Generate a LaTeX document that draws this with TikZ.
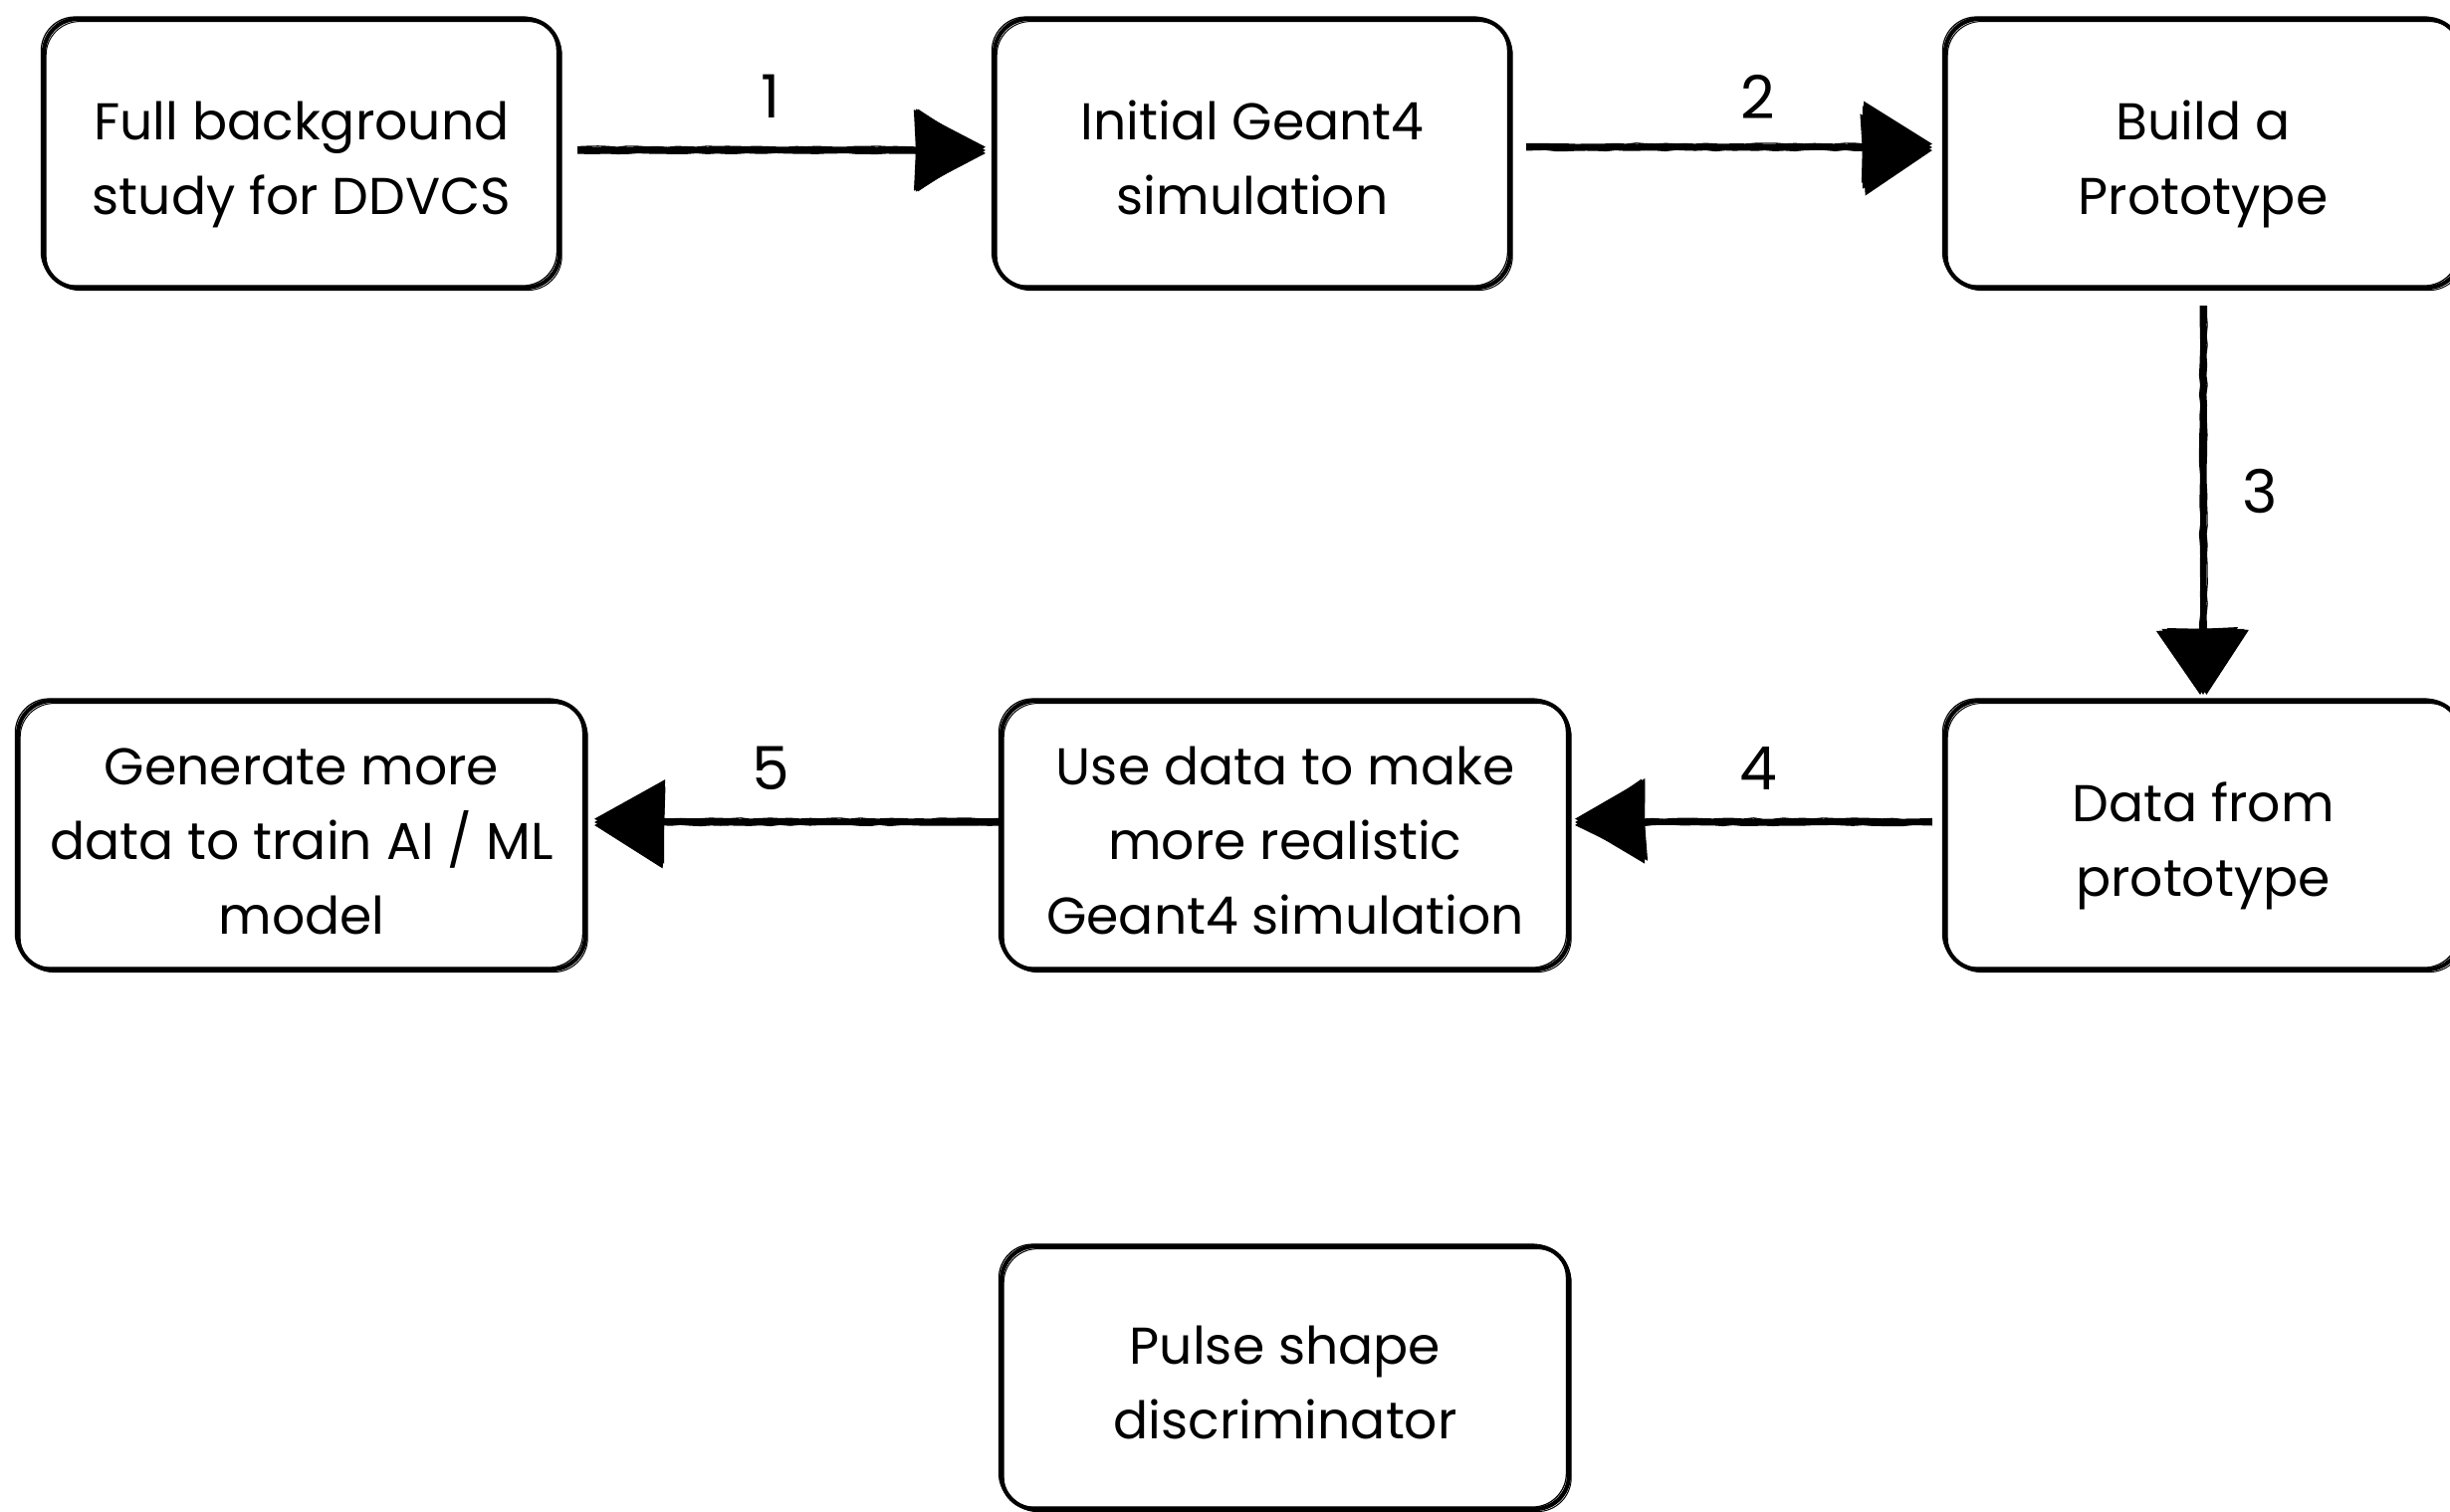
\documentclass[tikz,border=0pt]{standalone}
\usepackage{fontspec}
\setmainfont{Poppins}
\usetikzlibrary{arrows.meta,decorations.pathmorphing}
% taller first line pushes the block of text slightly down inside its box
\newcommand\firstlinestrut{\rule{0pt}{35.6pt}}
\begin{document}
\begin{tikzpicture}[x=0.5pt,y=-0.5pt,
  rough/.style={decorate, decoration={random steps, segment length=5pt, amplitude=0.35pt}},
  stepbox/.style={draw=black, line width=2.1pt, rounded corners=17pt,
    minimum width=259pt, minimum height=135pt, align=center, inner sep=0pt,
    font=\fontsize{26}{37.5}\selectfont,
    postaction={draw, line width=0.6pt, transform canvas={shift={(-1.3pt,1pt)}}},
    postaction={draw, line width=0.5pt, transform canvas={shift={(1.1pt,-1.3pt)}}}},
  widebox/.style={stepbox, minimum width=285pt},
  flow/.style={line width=2.6pt, -{Triangle[length=35pt,width=41pt]},
    postaction={draw, rough, line width=0.7pt, transform canvas={shift={(0pt,1.7pt)}}},
    postaction={draw, rough, line width=0.5pt, transform canvas={shift={(0pt,-1.5pt)}}}},
  flowv/.style={line width=2.6pt, -{Triangle[length=33pt,width=41pt]},
    postaction={draw, rough, line width=0.7pt, transform canvas={shift={(1.7pt,0pt)}}},
    postaction={draw, rough, line width=0.5pt, transform canvas={shift={(-1.5pt,0pt)}}}},
  steplabel/.style={font=\fontsize{30}{30}\selectfont, inner sep=0pt}]
\useasboundingbox (0,0) rectangle (2461,1519);

% top row
\node[stepbox] (bg)    at (303,154)  {\firstlinestrut Full background\\\strut study for DDVCS};
\node[stepbox] (g4)    at (1258,154) {\firstlinestrut Initial Geant4\\\strut simulation};
\node[stepbox] (proto) at (2213,154) {\firstlinestrut Build a\\\strut Prototype};

% middle row
\node[stepbox] (data)  at (2213,839) {\firstlinestrut Data from\\\strut prototype};
\node[widebox] (real)  at (1291,839) {\firstlinestrut Use data to make\\\strut more realistic\\\strut Geant4 simulation};
\node[widebox] (gen)   at (303,839)  {\firstlinestrut Generate more\\\strut data to train AI / ML\\\strut model};

% bottom
\node[widebox, minimum height=132pt] (psd) at (1291,1384) {\firstlinestrut Pulse shape\\\strut discriminator};

% connectors
\draw[flow]  ([xshift=8pt,yshift=1.5pt]bg.east)    -- ([xshift=-3.5pt,yshift=1.5pt]g4.west);
\draw[flow]  ([xshift=7pt,yshift=3pt]g4.east)    -- ([xshift=-5.5pt,yshift=3pt]proto.west);
\draw[flowv] ([yshift=-8pt]proto.south) -- ([yshift=2pt]data.north);
\draw[flow]  ([xshift=-5.5pt,yshift=6.5pt]data.west) -- ([xshift=2pt,yshift=6.5pt]real.east);
\draw[flow]  ([yshift=6.5pt]real.west) -- ([xshift=3.5pt,yshift=6.5pt]gen.east);

% step numbers
\node[steplabel] (n1) at (774,97)  {1};
\node[steplabel] (n2) at (1766,97) {2};
\node[steplabel] (n3) at (2270,494) {3};
\node[steplabel] (n4) at (1766,772) {4};
\node[steplabel] (n5) at (774,772) {5};
\end{tikzpicture}
\end{document}
